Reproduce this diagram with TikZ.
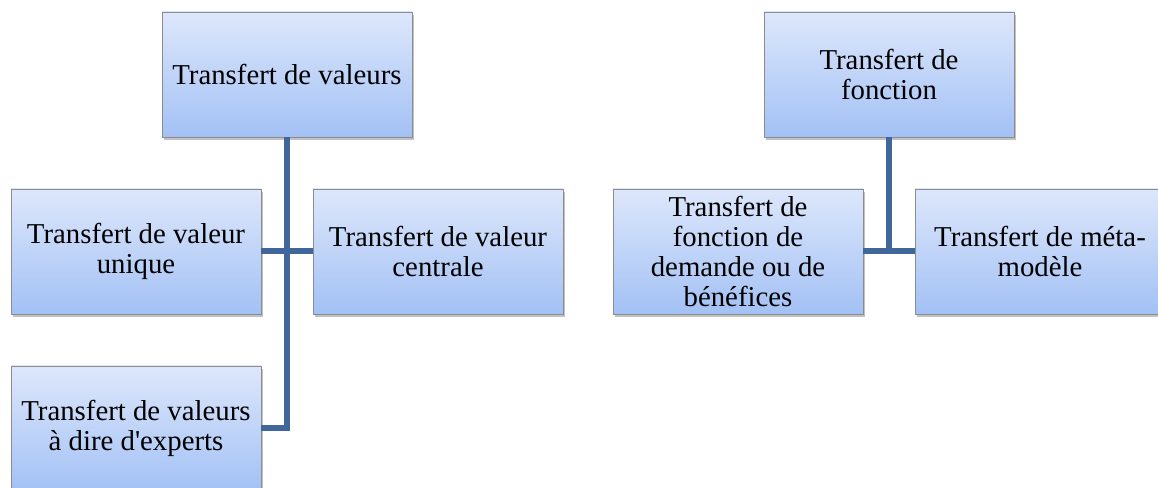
\documentclass[tikz,border=0pt]{standalone}
\usepackage{fontspec}
\setmainfont{Liberation Serif}
\usetikzlibrary{shadows}
\definecolor{boxtop}{HTML}{DDE7FB}
\definecolor{boxbot}{HTML}{A3C1F5}
\definecolor{boxline}{HTML}{8C8C8C}
\definecolor{trunk}{HTML}{41669A}
\tikzset{
  box/.style={rectangle, draw=boxline, line width=0.6pt, top color=boxtop, bottom color=boxbot,
    minimum width=187.5pt, minimum height=93.75pt, inner sep=0.75pt, align=center,
    font=\fontsize{21.6}{22.5}\selectfont,
    drop shadow={shadow xshift=1.5pt, shadow yshift=-2pt, opacity=0.35, fill=black!70}},
  link/.style={draw=trunk, line width=4.5pt}
}
\begin{document}
\begin{tikzpicture}[x=0.75pt, y=-0.75pt]
\clip (0, 0) rectangle (1158, 488);
%Boxes
\draw (287, 74.5) node [box] (valeurs) {Transfert de valeurs};
\draw (136, 251.5) node [box] (unique) {Transfert de valeur\\unique};
\draw (438, 251.5) node [box] (centrale) {Transfert de valeur\\centrale};
\draw (136, 428.5) node [box] (experts) {Transfert de valeurs\\à dire d\textquotesingle experts};
\draw (889, 74.5) node [box] (fonction) {Transfert de\\fonction};
\draw (738, 251.5) node [box] (demande) {Transfert de\\fonction de\\demande ou de\\bénéfices};
\draw (1040, 251.5) node [box] (meta) {Transfert de méta-\\modèle};
%Links
\draw [link] (valeurs.south) -- (valeurs.south |- experts.east) -- (experts.east);
\draw [link] (unique.east) -- (centrale.west);
\draw [link] (fonction.south) -- (fonction.south |- demande.east);
\draw [link] (demande.east) -- (meta.west);
\end{tikzpicture}
\end{document}
